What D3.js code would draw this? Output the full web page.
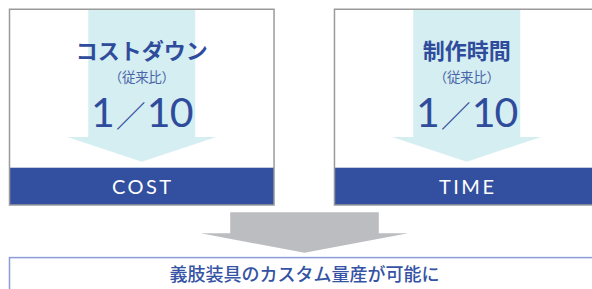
<!DOCTYPE html>
<html><head><meta charset="utf-8">
<script src="https://cdn.jsdelivr.net/npm/d3@7"></script>
<style>html,body{margin:0;padding:0;background:#fff;overflow:hidden}</style>
</head><body>
<svg id="c" width="592" height="289"></svg>
<script>
const labels = ["COST", "TIME"];
const titles = ["コストダウン", "制作時間"];
const subtitles = ["（従来比）", "（従来比）"];
const valueNum = ["1", "1"];
const valueDen = ["10", "10"];
const conclusion = "義肢装具のカスタム量産が可能に";

const svg = d3.select("#c");
const blue = "#3350a0", textBlue = "#2f4c9c", light = "#d4eef2", gray = "#bcbdc0";

const x = d3.scaleBand().domain(labels).range([9.5, 599]).paddingInner(0.186).paddingOuter(0);
const y = d3.scaleLinear().domain([0, 1]).range([9.25, 205]);
const bw = x.bandwidth();
const bandTop = 167.7;

const g = svg.selectAll("g.panel").data(labels).join("g").attr("class", "panel")
  .attr("transform", d => `translate(${x(d)},0)`);

g.append("path").attr("fill", light).attr("d", () => {
  const c = bw / 2, sw = 53.5, hw = 74.5;
  return `M${c - sw},${y(0)}H${c + sw}V137H${c + hw}L${c},161.7L${c - hw},137H${c - sw}Z`;
});
g.append("rect").attr("x", 0).attr("y", bandTop).attr("width", bw).attr("height", y(1) - bandTop).attr("fill", blue);
g.append("rect").attr("x", 0).attr("y", y(0)).attr("width", bw).attr("height", y(1) - y(0))
  .attr("fill", "none").attr("stroke", "#9a9a9a").attr("stroke-width", 1.5);

const jp = "'Noto Sans CJK JP','Noto Sans',sans-serif";
g.append("text").text((d, i) => titles[i]).attr("x", bw / 2).attr("y", 58.5)
  .attr("text-anchor", "middle").attr("font-family", jp).attr("font-weight", 700)
  .attr("font-size", 22).attr("fill", textBlue);
g.append("text").text((d, i) => subtitles[i]).attr("x", bw / 2).attr("y", 82)
  .attr("text-anchor", "middle").attr("font-family", jp).attr("font-weight", 400)
  .attr("font-size", 13.5).attr("letter-spacing", -0.3).attr("fill", "#4a64a8");
const vt = g.append("text").attr("x", bw / 2).attr("y", 126.5)
  .attr("text-anchor", "middle").attr("font-family", "Lato,sans-serif").attr("font-weight", 400)
  .attr("font-size", 41).attr("fill", textBlue);
vt.append("tspan").text((d, i) => valueNum[i]);
vt.append("tspan").text("／").attr("font-family", "'Noto Sans CJK JP',sans-serif").attr("font-weight", 300)
  .attr("font-size", 30).attr("dx", 1);
vt.append("tspan").text((d, i) => valueDen[i]).attr("dx", 1).attr("letter-spacing", -1);

g.append("text").text(d => d).attr("x", bw / 2 + 1).attr("y", 194.3)
  .attr("text-anchor", "middle").attr("font-family", "Lato,sans-serif").attr("font-weight", 400)
  .attr("font-size", 20).attr("fill", "#fff").attr("letter-spacing", 2.5);

const cx = 304.5;
svg.append("path").attr("fill", gray).attr("d",
  `M${cx - 74.3},212.3H${cx + 74.3}V233.3H${cx + 103.6}L${cx},252.7L${cx - 103.8},233.3H${cx - 74.3}Z`);

svg.append("rect").attr("x", 9.5).attr("y", 257.6).attr("width", 600).attr("height", 60)
  .attr("fill", "none").attr("stroke", "#8c9cd6").attr("stroke-width", 1.5);
svg.append("text").text(conclusion).attr("x", cx).attr("y", 280.5).attr("text-anchor", "middle")
  .attr("font-family", jp).attr("font-weight", 500).attr("font-size", 18).attr("fill", "#3553a4");
</script>
</body></html>
